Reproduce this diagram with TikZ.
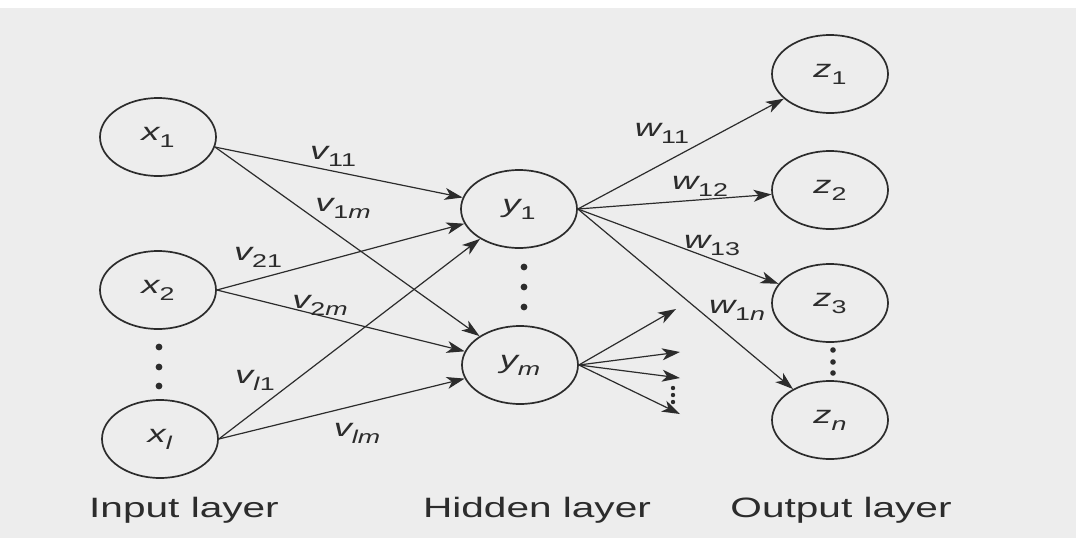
\documentclass[tikz,border=0pt]{standalone}
\usepackage{fontspec}
\setmainfont{Liberation Sans}
\usetikzlibrary{shapes.geometric,arrows.meta}
\definecolor{ink}{HTML}{2C2C2C}
\definecolor{paper}{HTML}{EDEDED}
\newcommand\sx[1]{\scalebox{1.45}[1]{#1}}
\newcommand\lbl[2]{\sx{\fontsize{25}{25}\selectfont\itshape #1\raisebox{-7pt}{\fontsize{18.5}{18.5}\selectfont\upshape #2}}}
\newcommand\ilt[1]{\textit{#1}}
\begin{document}
\begin{tikzpicture}[x=1pt,y=-1pt,
  neuron/.style={draw=ink,line width=1.7pt,ellipse,minimum width=116pt,minimum height=78pt,inner sep=0pt,text=ink},
  conn/.style={draw=ink,line width=1.2pt,-{Stealth[length=18pt,width=12pt,inset=5pt]}},
  wlab/.style={text=ink,inner sep=0pt},
  layer/.style={text=ink,inner sep=0pt,font=\fontsize{28}{30}\selectfont},
  dotm/.style={fill=ink,draw=none}]
\useasboundingbox (0,0) rectangle (1076,538);
\fill[white] (0,0) rectangle (1076,8);
\fill[paper] (0,8) rectangle (1076,538);
% nodes
\node[neuron] (x1) at (158,137) {\lbl{x}{1}};
\node[neuron] (x2) at (158,290) {\lbl{x}{2}};
\node[neuron] (xl) at (160,439) {\lbl{x}{\ilt{l}}};
\node[neuron] (y1) at (519,209) {\lbl{y}{1}};
\node[neuron] (ym) at (520,365) {\lbl{y}{\ilt{m}}};
\node[neuron] (z1) at (830,74) {\lbl{z}{1}};
\node[neuron] (z2) at (830,190) {\lbl{z}{2}};
\node[neuron] (z3) at (830,303) {\lbl{z}{3}};
\node[neuron] (zn) at (830,420) {\lbl{z}{\ilt{n}}};
% free ends
\coordinate (f1) at (676,309);
\coordinate (f2) at (680,352);
\coordinate (f3) at (680,378);
\coordinate (f4) at (680,414);
% dots
\foreach \yy in {347,367,386} \fill[dotm] (159,\yy) circle (3.4pt);
\foreach \yy in {267,287,307} \fill[dotm] (524,\yy) circle (3.4pt);
\foreach \yy in {350,362,373} \fill[dotm] (833,\yy) circle (2.8pt);
\foreach \yy in {388,395,402} \fill[dotm] (673,\yy) circle (2.2pt);
% connectors input -> hidden
\draw[conn] (x1.-10) -- (y1);
\draw[conn] (x1.-10) -- (ym);
\draw[conn] (x2.east) -- (y1);
\draw[conn] (x2.east) -- (ym);
\draw[conn] (xl.east) -- (y1);
\draw[conn] (xl.east) -- (ym);
% hidden -> output
\draw[conn] (y1.east) -- (z1);
\draw[conn] (y1.east) -- (z2);
\draw[conn] (y1.east) -- (z3);
\draw[conn] (y1.east) -- (zn);
\draw[conn] (ym.east) -- (f1);
\draw[conn] (ym.east) -- (f2);
\draw[conn] (ym.east) -- (f3);
\draw[conn] (ym.east) -- (f4);
% weight labels
\node[wlab] (lv11) at (333,156) {\lbl{v}{11}};
\node[wlab] (lv1m) at (343,208) {\lbl{v}{1\ilt{m}}};
\node[wlab] (lv21) at (258,257) {\lbl{v}{21}};
\node[wlab] (lv2m) at (320,305) {\lbl{v}{2\ilt{m}}};
\node[wlab] (lvl1) at (255,380) {\lbl{v}{\ilt{l}1}};
\node[wlab] (lvlm) at (357,433) {\lbl{v}{\ilt{lm}}};
\node[wlab] (lw11) at (662,133) {\lbl{w}{11}};
\node[wlab] (lw12) at (700,186) {\lbl{w}{12}};
\node[wlab] (lw13) at (712,245) {\lbl{w}{13}};
\node[wlab] (lw1n) at (737,310) {\lbl{w}{1\ilt{n}}};
% layer labels
\node[layer] (li) at (184,510) {\sx{Input layer}};
\node[layer] (lh) at (537,510) {\sx{Hidden layer}};
\node[layer] (lo) at (841,510) {\sx{Output layer}};
\end{tikzpicture}
\end{document}
